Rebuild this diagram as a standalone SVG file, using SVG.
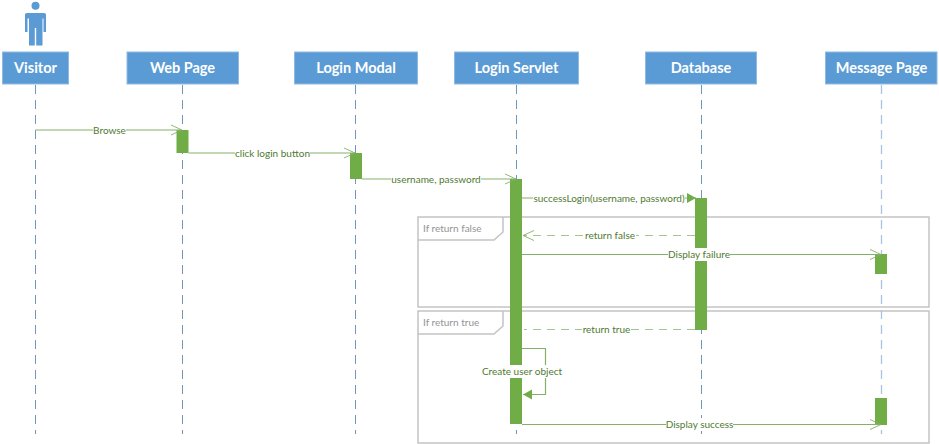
<svg xmlns="http://www.w3.org/2000/svg" width="939" height="444" viewBox="0 0 939 444">
<style>
text{font-family:Lato,"Open Sans","Liberation Sans",sans-serif}
.head{fill:#5b9bd5;stroke:#8fbbe3;stroke-width:1}
.name{fill:#fff;font-size:14.500px;font-weight:700;text-anchor:middle}
.life{stroke:#6f96bb;stroke-width:1;stroke-dasharray:9 6;fill:none}
.act{fill:#70ad47}
.msg{stroke:#86b06a;stroke-width:1.2;fill:none}
.dash{stroke-dasharray:8 6;stroke:#a3c48c}
.lbl{fill:#4f7a32;font-size:10px;text-anchor:middle}
.bg{fill:#fff}
.frame{fill:none;stroke:#c4c4c4;stroke-width:1.5}
.ftxt{fill:#949494;font-size:10px}
</style>
<defs>
<marker id="open" markerUnits="userSpaceOnUse" markerWidth="14" markerHeight="14" refX="11" refY="7" orient="auto"><path d="M0 2L11 7L0 12" fill="none" stroke="#86b06a" stroke-width="0.9"/></marker>
<marker id="fill" markerUnits="userSpaceOnUse" markerWidth="14" markerHeight="14" refX="10" refY="7" orient="auto"><path d="M1 2L10 7L1 12Z" fill="#70ad47"/></marker>
</defs>
<rect width="939" height="444" fill="#fff"/>
<g id="frames">
<g id="frame-false"><rect class="frame" x="418" y="217" width="511" height="90"/><path class="frame" d="M418 240H494L503 232V217"/><text class="ftxt" x="423" y="232">If return false</text></g>
<g id="frame-true"><rect class="frame" x="418" y="311" width="511" height="132"/><path class="frame" d="M418 334H494L503 326V311"/><text class="ftxt" x="423" y="326">If return true</text></g>
</g>
<g id="lifelines">
<path class="life" d="M35.500 85V434"/>
<path class="life" d="M182.500 85V434"/>
<path class="life" d="M355.500 85V434"/>
<path class="life" d="M516.500 85V434"/>
<path class="life" d="M701.500 85V434"/>
<path class="life" d="M881.500 85V434" style="stroke:#a9c4e0;stroke-width:1.300"/>
</g>
<g id="visitor-icon" fill="#5b9bd5"><circle cx="35.500" cy="5.700" r="4"/><path d="M25 14.500Q25 13 27 13H44Q46 13 46 14.500V32H43.500V18.500H42.500V45.500H36.200V28H34.800V45.500H29V18.500H27.500V32H25Z"/></g>
<g id="visitor"><rect class="head" x="2.500" y="52" width="66" height="32"/><text class="name" x="35.500" y="73">Visitor</text></g>
<g id="webpage"><rect class="head" x="127" y="52" width="111.500" height="32"/><text class="name" x="182.500" y="73">Web Page</text></g>
<g id="loginmodal"><rect class="head" x="294.500" y="52" width="123" height="32"/><text class="name" x="356" y="73">Login Modal</text></g>
<g id="loginservlet"><rect class="head" x="454.500" y="52" width="124" height="32"/><text class="name" x="516.500" y="73">Login Servlet</text></g>
<g id="database"><rect class="head" x="645.500" y="52" width="111" height="32"/><text class="name" x="701" y="73">Database</text></g>
<g id="messagepage"><rect class="head" x="825.500" y="52" width="111.500" height="32"/><text class="name" x="881.500" y="73">Message Page</text></g>
<g id="activations">
<rect class="act" x="176.500" y="130" width="12" height="23"/>
<rect class="act" x="350" y="153" width="12" height="26"/>
<rect class="act" x="510" y="179" width="12" height="245"/>
<rect class="act" x="695" y="198" width="12" height="132"/>
<rect class="act" x="875" y="254" width="12" height="20"/>
<rect class="act" x="875" y="398" width="12" height="27"/>
</g>
<g id="connectors">
<path class="msg" d="M35.500 130H182" marker-end="url(#open)"/>
<path class="msg" d="M188.500 153H355" marker-end="url(#open)"/>
<path class="msg" d="M362 179H516" marker-end="url(#open)"/>
<path class="msg" d="M522 198H696" marker-end="url(#fill)"/>
<path class="msg dash" d="M695 235.500H523" marker-end="url(#open)"/>
<path class="msg" d="M522 254.500H881" marker-end="url(#open)"/>
<path class="msg dash" d="M695 329.500H524"/>
<path class="msg" d="M522 348.500H545.500V394.500H523" marker-end="url(#fill)"/>
<path class="msg" d="M522 424.500H881" marker-end="url(#open)"/>
</g>
<g id="labels">
<rect class="bg" x="93" y="124" width="33" height="12"/><text class="lbl" x="109.500" y="133.500">Browse</text>
<rect class="bg" x="235" y="147" width="75" height="12"/><text class="lbl" x="272.500" y="156.500">click login button</text>
<rect class="bg" x="391" y="173" width="90" height="12"/><text class="lbl" x="436" y="182.500">username, password</text>
<rect class="bg" x="533" y="192" width="152" height="12"/><text class="lbl" x="609" y="201.500">successLogin(username, password)</text>
<rect class="bg" x="584" y="229" width="52" height="13"/><text class="lbl" x="610" y="239">return false</text>
<rect class="bg" x="668" y="248" width="62" height="13"/><text class="lbl" x="699" y="258">Display failure</text>
<rect class="bg" x="582" y="323" width="49" height="13"/><text class="lbl" x="606.500" y="333">return true</text>
<rect class="bg" x="482" y="365" width="80" height="13"/><text class="lbl" x="522" y="375">Create user object</text>
<rect class="bg" x="666" y="418" width="67" height="13"/><text class="lbl" x="699.500" y="428">Display success</text>
</g>
</svg>
